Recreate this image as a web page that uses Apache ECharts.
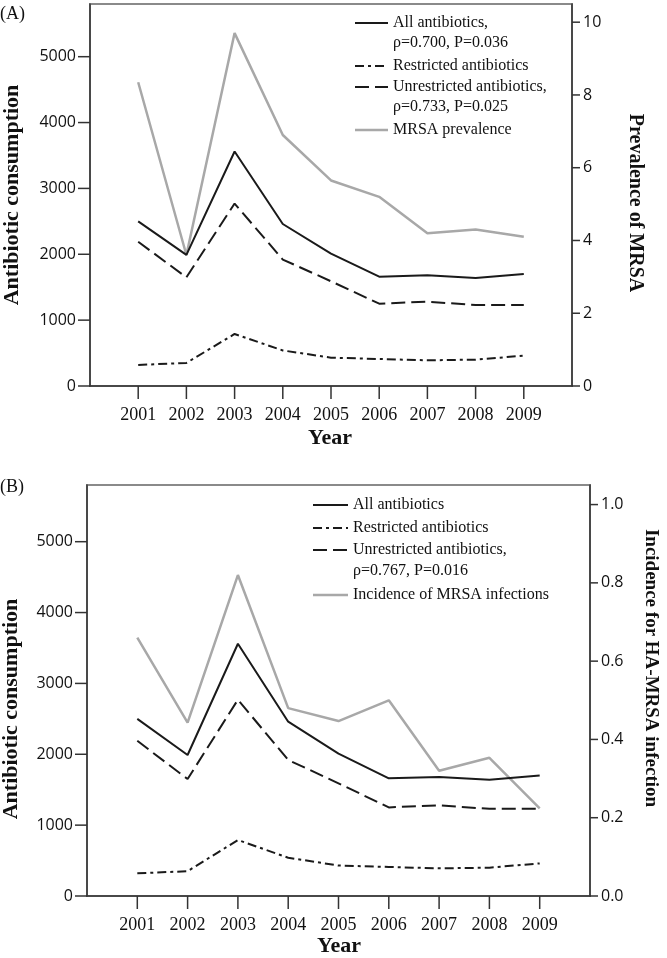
<!DOCTYPE html>
<html>
<head>
<meta charset="utf-8">
<script src="https://cdn.jsdelivr.net/npm/echarts@6/dist/echarts.min.js"></script>
<style>
html,body{margin:0;padding:0;background:#fff;}
#c{width:667px;height:958px;}
</style>
</head>
<body>
<div id="c"></div>
<script>
// ---- data ----
const years = [2001, 2002, 2003, 2004, 2005, 2006, 2007, 2008, 2009];
const allAntibiotics = [2500, 1990, 3560, 2460, 2010, 1660, 1680, 1640, 1700];
const restrictedAntibiotics = [320, 350, 790, 540, 430, 410, 390, 400, 460];
const unrestrictedAntibiotics = [2190, 1650, 2770, 1920, 1590, 1250, 1280, 1230, 1230];
const mrsaPrevalence = [8.35, 3.6, 9.7, 6.9, 5.65, 5.2, 4.2, 4.3, 4.1];
const mrsaIncidence = [0.66, 0.443, 0.82, 0.48, 0.447, 0.50, 0.32, 0.353, 0.224];
const leftTicks = [0, 1000, 2000, 3000, 4000, 5000];
const rightTicksA = [0, 2, 4, 6, 8, 10];
const rightTicksB = [0, 0.2, 0.4, 0.6, 0.8, 1.0];

const pairs = (vals) => years.map((y, i) => [y, vals[i]]);
const xMin = years[0] - 1, xMax = years[years.length - 1] + 1;

const serif = '"Liberation Serif", "Times New Roman", serif';
const sans = '"Open Sans", "DejaVu Sans", sans-serif';
const BLACK = '#1a1a1a';
const GRAY = '#a8a8a8';
const AXIS = '#333';

function xAxisDef(gridIndex) {
  return {
    type: 'value', gridIndex, min: xMin, max: xMax, interval: 1,
    axisLine: { show: true, lineStyle: { color: AXIS, width: 1.5 } },
    axisTick: { show: false },
    axisLabel: { showMinLabel: false, showMaxLabel: false, margin: 20, fontFamily: serif, fontSize: 18, color: '#111',
                 formatter: v => String(v) },
    splitLine: { show: false }
  };
}
function yAxisDef(gridIndex, position, max, step, fmt, margin) {
  return {
    type: 'value', gridIndex, position, min: 0, max: max, interval: step,
    axisLine: { show: true, lineStyle: { color: AXIS, width: 1.5 } },
    axisTick: { show: false },
    axisLabel: { showMaxLabel: false, margin: margin, fontFamily: sans, fontSize: 16, color: '#111', formatter: fmt },
    splitLine: { show: false }
  };
}

function lineSeries(name, xi, yi, vals, color, width, dash) {
  return {
    name, type: 'line', xAxisIndex: xi, yAxisIndex: yi, data: pairs(vals),
    symbol: 'none', smooth: false, animation: false,
    lineStyle: { color, width, type: dash || 'solid' }
  };
}

// tick marks drawn as a custom series, positioned through the axes' scales
function tickSeries(xi, yi, data, dx, dy) {
  return {
    type: 'custom', xAxisIndex: xi, yAxisIndex: yi, data: data, clip: false, silent: true,
    animation: false, z: 5,
    renderItem: (params, api) => {
      const p = api.coord([api.value(0), api.value(1)]);
      return { type: 'line',
        shape: { x1: p[0], y1: p[1], x2: p[0] + dx, y2: p[1] + dy },
        style: { stroke: AXIS, lineWidth: 1.5 } };
    }
  };
}
function panelTickSeries(xi, yl, yr, rightVals) {
  return [
    tickSeries(xi, yl, years.map(y => [y, 0]), 0, 13),
    tickSeries(xi, yl, leftTicks.map(v => [xMin, v]), -12, 0),
    tickSeries(xi, yr, rightVals.map(v => [xMax, v]), 8, 0)
  ];
}

const DASHDOT = [9, 4, 3, 4];
const DASH = [14, 6];

function legendItem(x1, x2, y, color, width, dash, lines, tx, lh) {
  const sample = { type: 'line', shape: { x1, y1: y, x2, y2: y }, style: { stroke: color, lineWidth: width } };
  if (dash) sample.style.lineDash = dash;
  const els = [sample];
  lines.forEach((t, i) => {
    els.push({ type: 'text', x: tx, y: y + i * lh,
      style: { text: t, fill: '#111', font: '16px ' + serif, textAlign: 'left', textVerticalAlign: 'middle' } });
  });
  return els;
}
function title(text, x, y, rot, size, weight) {
  return { type: 'text', x, y, rotation: rot,
    style: { text, fill: '#111', font: (weight || '') + ' ' + size + 'px ' + serif, textAlign: 'center', textVerticalAlign: 'middle' } };
}

const graphics = [].concat(
  [{ type: 'text', x: 0, y: 14, style: { text: '(A)', fill: '#111', font: '18px ' + serif, textVerticalAlign: 'middle' } },
   { type: 'text', x: 0, y: 487, style: { text: '(B)', fill: '#111', font: '18px ' + serif, textVerticalAlign: 'middle' } },
   title('Antibiotic consumption', 12, 195, Math.PI / 2, 22, 'bold'),
   title('Prevalence of MRSA', 635, 203, -Math.PI / 2, 20, 'bold'),
   title('Year', 330, 438, 0, 22, 'bold'),
   title('Antibiotic consumption', 11, 709, Math.PI / 2, 22, 'bold'),
   title('Incidence for HA-MRSA infection', 651, 668, -Math.PI / 2, 19, 'bold'),
   title('Year', 339, 946, 0, 22, 'bold')
  ],
  legendItem(355, 388, 23, BLACK, 2, null, ['All antibiotics,', 'ρ=0.700, P=0.036'], 393, 20),
  legendItem(355, 388, 66, BLACK, 2, DASHDOT, ['Restricted antibiotics'], 393, 20),
  legendItem(355, 388, 87, BLACK, 2, DASH, ['Unrestricted antibiotics,', 'ρ=0.733, P=0.025'], 393, 20),
  legendItem(355, 388, 130, GRAY, 2.5, null, ['MRSA prevalence'], 393, 20),
  legendItem(313, 348, 505, BLACK, 2, null, ['All antibiotics'], 353, 21),
  legendItem(313, 348, 528, BLACK, 2, DASHDOT, ['Restricted antibiotics'], 353, 21),
  legendItem(313, 348, 550, BLACK, 2, DASH, ['Unrestricted antibiotics,', 'ρ=0.767, P=0.016'], 353, 21),
  legendItem(313, 348, 595, GRAY, 2.5, null, ['Incidence of MRSA infections'], 353, 21)
);

const option = {
  animation: false,
  grid: [
    { left: 90, right: 95, top: 4, height: 382, show: true, borderColor: '#8a8a8a', borderWidth: 2 },
    { left: 87, right: 77, top: 485, height: 411, show: true, borderColor: '#8a8a8a', borderWidth: 2 }
  ],
  xAxis: [xAxisDef(0), xAxisDef(1)],
  yAxis: [
    yAxisDef(0, 'left', 5800, 1000, v => String(v), 14),
    yAxisDef(0, 'right', 10.5, 2, v => String(v), 11),
    yAxisDef(1, 'left', 5800, 1000, v => String(v), 14),
    yAxisDef(1, 'right', 1.05, 0.2, v => v.toFixed(1), 11)
  ],
  series: [
    lineSeries('MRSA prevalence', 0, 1, mrsaPrevalence, GRAY, 2.5),
    lineSeries('All antibiotics', 0, 0, allAntibiotics, BLACK, 2),
    lineSeries('Restricted antibiotics', 0, 0, restrictedAntibiotics, BLACK, 2, DASHDOT),
    lineSeries('Unrestricted antibiotics', 0, 0, unrestrictedAntibiotics, BLACK, 2, DASH),
    lineSeries('Incidence of MRSA infections', 1, 3, mrsaIncidence, GRAY, 2.5),
    lineSeries('All antibiotics', 1, 2, allAntibiotics, BLACK, 2),
    lineSeries('Restricted antibiotics', 1, 2, restrictedAntibiotics, BLACK, 2, DASHDOT),
    lineSeries('Unrestricted antibiotics', 1, 2, unrestrictedAntibiotics, BLACK, 2, DASH)
  ].concat(panelTickSeries(0, 0, 1, rightTicksA), panelTickSeries(1, 2, 3, rightTicksB)),
  graphic: graphics
};

const chart = echarts.init(document.getElementById('c'));
chart.setOption(option);
</script>
</body>
</html>
